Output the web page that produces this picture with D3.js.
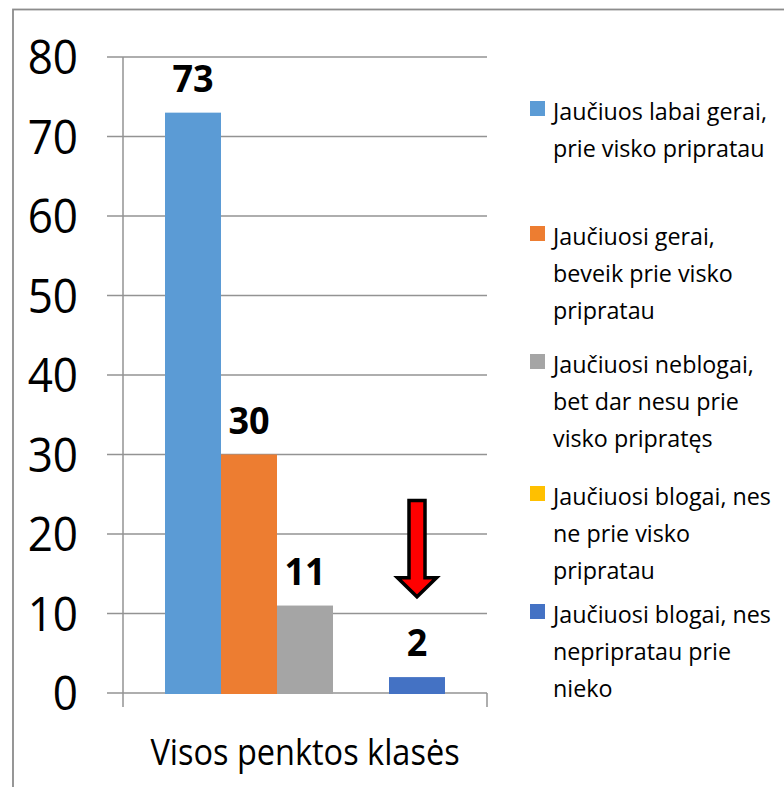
<!DOCTYPE html>
<html>
<head>
    <meta charset="UTF-8" />
    <script src="https://cdn.jsdelivr.net/npm/d3@7/dist/d3.min.js"></script>
    <style>
        body { margin: 0; background: #fff; }
        text { font-family: "Open Sans", Lato, sans-serif; fill: #000; }
    </style>
</head>
<body>
    <div id="chart"></div>
    <script>
        // data
        const category = "Visos penktos klasės";
        const series = [
            "Jaučiuos labai gerai, prie visko pripratau",
            "Jaučiuosi gerai, beveik prie visko pripratau",
            "Jaučiuosi neblogai, bet dar nesu prie visko pripratęs",
            "Jaučiuosi blogai, nes ne prie visko pripratau",
            "Jaučiuosi blogai, nes nepripratau prie nieko"
        ];
        const legendLines = [
            ["Jaučiuos labai gerai,", "prie visko pripratau"],
            ["Jaučiuosi gerai,", "beveik prie visko", "pripratau"],
            ["Jaučiuosi neblogai,", "bet dar nesu prie", "visko pripratęs"],
            ["Jaučiuosi blogai, nes", "ne prie visko", "pripratau"],
            ["Jaučiuosi blogai, nes", "nepripratau prie", "nieko"]
        ];
        const values = [73, 30, 11, 0, 2];
        const colors = ["#5B9BD5", "#ED7D31", "#A5A5A5", "#FFC000", "#4472C4"];
        const yTicks = [0, 10, 20, 30, 40, 50, 60, 70, 80];
        // red arrow annotation above the last bar (in axis units)
        const arrowFrom = 24.2, arrowTo = 12.1;

        const width = 784, height = 787;
        const legendY = [120, 245, 373, 505, 623];
        const lineH = 37;

        const svg = d3.select("#chart").append("svg")
            .attr("width", width)
            .attr("height", height);

        // outer frame (runs off the right and bottom edge)
        svg.append("rect")
            .attr("x", 13).attr("y", 9.5)
            .attr("width", 800).attr("height", 800)
            .attr("fill", "none")
            .attr("stroke", "#8c8c8c")
            .attr("stroke-width", 1.8);

        const y = d3.scaleLinear().domain([0, 80]).range([693, 57]);
        const x = d3.scaleBand().domain([category]).range([123, 487]);
        const x1 = d3.scaleBand().domain(series).range([0, x.bandwidth()])
            .paddingInner(0).paddingOuter(0.75);

        // text in the picture is drawn a bit taller than wide
        function stretchedText(sel, tx, ty, k) {
            return sel.attr("transform", `translate(${tx},${ty}) scale(1,${k})`);
        }

        // gridlines
        svg.append("g")
            .selectAll("line")
            .data(yTicks)
            .join("line")
            .attr("x1", 107).attr("x2", 487)
            .attr("y1", d => y(d)).attr("y2", d => y(d))
            .attr("stroke", "#939393")
            .attr("stroke-width", 1.5);

        // y axis line + category tick marks
        svg.append("line")
            .attr("x1", 123).attr("x2", 123)
            .attr("y1", y(80)).attr("y2", y(0) + 14)
            .attr("stroke", "#939393").attr("stroke-width", 1.5);
        svg.append("line")
            .attr("x1", 487).attr("x2", 487)
            .attr("y1", y(0)).attr("y2", y(0) + 14)
            .attr("stroke", "#939393").attr("stroke-width", 1.5);

        // y tick labels
        svg.append("g")
            .selectAll("text")
            .data(yTicks)
            .join("text")
            .each(function(d) { stretchedText(d3.select(this), 78, y(d), 1.08); })
            .attr("text-anchor", "end")
            .attr("dy", "0.36em")
            .attr("font-size", 44)
            .text(d => d);

        // bars
        const bars = series.map((s, i) => ({ s, v: values[i], c: colors[i] }));
        const g = svg.append("g").attr("transform", `translate(${x(category)},0)`);
        g.selectAll("rect")
            .data(bars.filter(d => d.v > 0))
            .join("rect")
            .attr("x", d => x1(d.s))
            .attr("y", d => y(d.v))
            .attr("width", x1.bandwidth())
            .attr("height", d => y(0) - y(d.v) + 1)
            .attr("fill", d => d.c);

        g.selectAll("text")
            .data(bars.filter(d => d.v > 0))
            .join("text")
            .each(function(d) {
                stretchedText(d3.select(this), x1(d.s) + x1.bandwidth() / 2, y(d.v) - 21, 1.06);
            })
            .attr("text-anchor", "middle")
            .attr("font-size", 36)
            .attr("font-weight", "bold")
            .text(d => d.v);

        // arrow
        const ax = x(category) + x1(series[4]) + x1.bandwidth() / 2;
        const yTop = y(arrowFrom), yTip = y(arrowTo);
        const headY = yTip - 19;
        const arrow = d3.path();
        arrow.moveTo(ax - 8, yTop);
        arrow.lineTo(ax + 8, yTop);
        arrow.lineTo(ax + 8, headY);
        arrow.lineTo(ax + 19.5, headY);
        arrow.lineTo(ax, yTip);
        arrow.lineTo(ax - 19.5, headY);
        arrow.lineTo(ax - 8, headY);
        arrow.closePath();
        svg.append("path")
            .attr("d", arrow.toString())
            .attr("fill", "#ff0000")
            .attr("stroke", "#000")
            .attr("stroke-width", 3.5)
            .attr("stroke-linejoin", "miter");

        // category label
        svg.append("text")
            .call(stretchedText, x(category) + x.bandwidth() / 2, 765, 1.15)
            .attr("text-anchor", "middle")
            .attr("font-size", 32.5)
            .text(category);

        // legend
        const leg = svg.append("g")
            .selectAll("g")
            .data(legendLines)
            .join("g");
        leg.append("rect")
            .attr("x", 530)
            .attr("y", (d, i) => legendY[i] - 19)
            .attr("width", 15).attr("height", 15)
            .attr("fill", (d, i) => colors[i]);
        leg.each(function(lines, i) {
            d3.select(this).selectAll("text")
                .data(lines)
                .join("text")
                .each(function(t, j) {
                    stretchedText(d3.select(this), 553, legendY[i] + j * lineH, 1.05);
                })
                .attr("font-size", 23.3)
                .text(t => t);
        });
    </script>
</body>
</html>
